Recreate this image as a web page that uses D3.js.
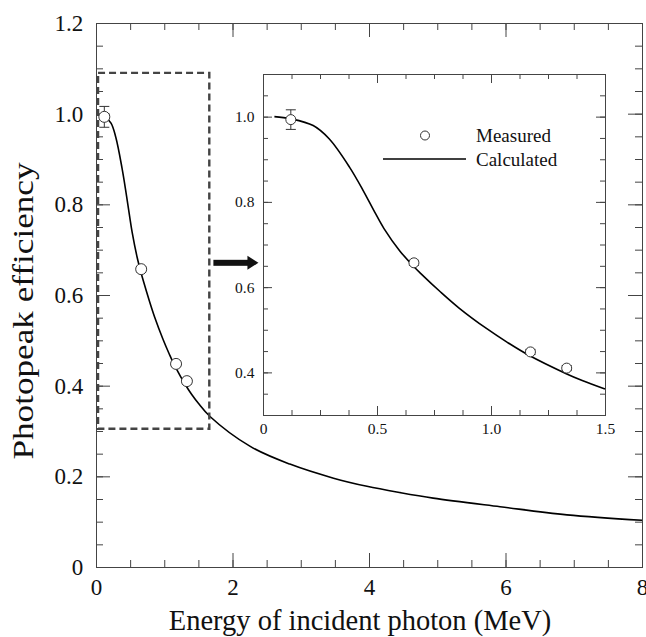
<!DOCTYPE html>
<html>
<head>
<meta charset="utf-8">
<script src="https://cdn.jsdelivr.net/npm/d3@7"></script>
<style>
  body { margin: 0; background: #fff; }
</style>
</head>
<body>
<div id="chart"></div>
<script>
// measured points (energy MeV, efficiency, error)
var measE = [0.122, 0.662, 1.173, 1.332];
var measEff = [0.993, 0.657, 0.448, 0.410];
var measErr = [0.023, 0.006, 0.006, 0.006];

// calculated curve
var calcE = [0.05, 0.12, 0.22, 0.29, 0.38, 0.44, 0.49, 0.53, 0.6, 0.66, 0.69, 0.78, 0.86, 0.98, 1.07, 1.16, 1.33, 1.4, 1.5, 1.67, 2.26, 2.84, 3.48, 3.97, 4.46, 4.94, 5.92, 6.9, 8.0];
var calcEff = [1.0, 0.995, 0.979, 0.948, 0.881, 0.826, 0.776, 0.738, 0.685, 0.649, 0.633, 0.588, 0.551, 0.503, 0.471, 0.442, 0.397, 0.381, 0.361, 0.332, 0.266, 0.227, 0.196, 0.178, 0.164, 0.152, 0.133, 0.115, 0.103];

var mainXTicks = [0, 2, 4, 6, 8];
var mainYTicks = [0, 0.2, 0.4, 0.6, 0.8, 1.0, 1.2];
var insetXTicks = [0, 0.5, 1.0, 1.5];
var insetYTicks = [0.4, 0.6, 0.8, 1.0];

var width = 646, height = 637;
var serif = "'Liberation Serif', 'Times New Roman', 'DejaVu Serif', serif";

var svg = d3.select("#chart").append("svg")
    .attr("width", width)
    .attr("height", height);

var calc = calcE.map(function(e, i) { return {e: e, v: calcEff[i]}; });
var meas = measE.map(function(e, i) { return {e: e, v: measEff[i], err: measErr[i]}; });

// ---- main plot
var x = d3.scaleLinear().domain([0, 8]).range([96, 642]);
var y = d3.scaleLinear().domain([0, 1.2]).range([567, 23]);

function frame(g, xs, ys, xMajor, xMinor, yMajor, yMinor, big, small, fs, fmtX, fmtY) {
  var x0 = xs.range()[0], x1 = xs.range()[1], y0 = ys.range()[0], y1 = ys.range()[1];
  // bottom
  g.append("g").attr("transform", "translate(0," + y0 + ")")
    .call(d3.axisBottom(xs).tickValues(xMinor).tickSize(-small).tickFormat(""));
  g.append("g").attr("class", "lab").attr("transform", "translate(0," + y0 + ")")
    .call(d3.axisBottom(xs).tickValues(xMajor).tickSize(-big).tickPadding(fs * 0.5).tickFormat(fmtX));
  // top
  g.append("g").attr("transform", "translate(0," + y1 + ")")
    .call(d3.axisTop(xs).tickValues(xMinor).tickSize(-small).tickFormat(""));
  g.append("g").attr("transform", "translate(0," + y1 + ")")
    .call(d3.axisTop(xs).tickValues(xMajor).tickSize(-big).tickFormat(""));
  // left
  g.append("g").attr("transform", "translate(" + x0 + ",0)")
    .call(d3.axisLeft(ys).tickValues(yMinor).tickSize(-small).tickFormat(""));
  g.append("g").attr("class", "lab").attr("transform", "translate(" + x0 + ",0)")
    .call(d3.axisLeft(ys).tickValues(yMajor).tickSize(-big).tickPadding(fs * 0.55).tickFormat(fmtY));
  // right
  g.append("g").attr("transform", "translate(" + x1 + ",0)")
    .call(d3.axisRight(ys).tickValues(yMinor).tickSize(-small).tickFormat(""));
  g.append("g").attr("transform", "translate(" + x1 + ",0)")
    .call(d3.axisRight(ys).tickValues(yMajor).tickSize(-big).tickFormat(""));

  g.selectAll(".domain").attr("stroke", "#444");
  g.selectAll(".tick line").attr("stroke", "#444");
  g.selectAll(".lab text").style("font-size", fs + "px");
}

function range(a, b, s) {
  var out = [];
  for (var v = a; v <= b + 1e-9; v += s) out.push(+v.toFixed(4));
  return out;
}

var mainG = svg.append("g");
frame(mainG, x, y, mainXTicks, range(0, 8, 0.5), mainYTicks, range(0, 1.2, 0.05), 14, 7, 23,
  function(d) { return d3.format("d")(d); },
  function(d) { return d === 0 ? "0" : d3.format(".1f")(d); });

var line = d3.line().x(function(d) { return x(d.e); }).y(function(d) { return y(d.v); })
    .curve(d3.curveCatmullRom);

mainG.append("path")
    .datum(calc.filter(function(d) { return d.e >= 0.12; }))
    .attr("d", line)
    .attr("fill", "none")
    .attr("stroke", "#000")
    .attr("stroke-width", 1.6);

// zoom box
mainG.append("rect")
    .attr("x", x(0.03)).attr("y", y(1.09))
    .attr("width", x(1.66) - x(0.03))
    .attr("height", y(0.305) - y(1.09))
    .attr("fill", "none")
    .attr("stroke", "#444")
    .attr("stroke-width", 2.4)
    .attr("stroke-dasharray", "7,4");

function points(g, xs, ys, r, cap) {
  var pts = g.selectAll(".pt").data(meas).enter().append("g");
  pts.append("line")
    .attr("x1", function(d) { return xs(d.e); }).attr("x2", function(d) { return xs(d.e); })
    .attr("y1", function(d) { return ys(d.v - d.err); }).attr("y2", function(d) { return ys(d.v + d.err); })
    .attr("stroke", "#333");
  [-1, 1].forEach(function(s) {
    pts.append("line")
      .attr("x1", function(d) { return xs(d.e) - cap; }).attr("x2", function(d) { return xs(d.e) + cap; })
      .attr("y1", function(d) { return ys(d.v + s * d.err); }).attr("y2", function(d) { return ys(d.v + s * d.err); })
      .attr("stroke", "#333");
  });
  pts.append("circle")
    .attr("cx", function(d) { return xs(d.e); })
    .attr("cy", function(d) { return ys(d.v); })
    .attr("r", r)
    .attr("fill", "#fff")
    .attr("stroke", "#333")
    .attr("stroke-width", 1);
}
points(mainG, x, y, 5.5, 5);

// arrow
var ax0 = x(1.72), ax1 = x(2.38), ay = y(0.671);
svg.append("rect").attr("x", ax0).attr("y", ay - 3).attr("width", ax1 - ax0 - 10).attr("height", 6).attr("fill", "#111");
svg.append("path")
    .attr("d", "M" + (ax1 - 11) + "," + (ay - 7) + "L" + ax1 + "," + ay + "L" + (ax1 - 11) + "," + (ay + 7) + "Z")
    .attr("fill", "#111");

// axis titles
svg.append("text")
    .attr("x", 360).attr("y", 630)
    .attr("text-anchor", "middle")
    .style("font-size", "28.5px")
    .text("Energy of incident photon (MeV)");

svg.append("text")
    .attr("transform", "translate(33,311) rotate(-90)")
    .attr("text-anchor", "middle")
    .attr("textLength", 297)
    .attr("lengthAdjust", "spacingAndGlyphs")
    .style("font-size", "29px")
    .text("Photopeak efficiency");

// ---- inset
var xi = d3.scaleLinear().domain([0, 1.5]).range([263, 605]);
var yi = d3.scaleLinear().domain([0.3, 1.1]).range([415, 74]);

var insG = svg.append("g");
insG.append("rect").attr("x", 263).attr("y", 74).attr("width", 342).attr("height", 341).attr("fill", "#fff");
frame(insG, xi, yi, insetXTicks, range(0, 1.5, 0.125), insetYTicks, range(0.3, 1.1, 0.05), 9, 5, 15.5,
  function(d) { return d === 0 ? "0" : d3.format(".1f")(d); },
  function(d) { return d3.format(".1f")(d); });

var linei = d3.line().x(function(d) { return xi(d.e); }).y(function(d) { return yi(d.v); })
    .curve(d3.curveCatmullRom);
insG.append("path")
    .datum(calc.filter(function(d) { return d.e <= 1.5; }))
    .attr("d", linei)
    .attr("fill", "none")
    .attr("stroke", "#000")
    .attr("stroke-width", 1.6);
points(insG, xi, yi, 5, 5);

// legend
insG.append("circle").attr("cx", 425).attr("cy", 135.5).attr("r", 4.5)
    .attr("fill", "#fff").attr("stroke", "#333");
insG.append("text").attr("x", 476).attr("y", 142).style("font-size", "19px").text("Measured");
insG.append("line").attr("x1", 383).attr("x2", 466).attr("y1", 159).attr("y2", 159)
    .attr("stroke", "#000").attr("stroke-width", 1.4);
insG.append("text").attr("x", 476).attr("y", 166).style("font-size", "19px").text("Calculated");

svg.selectAll("text").style("font-family", serif).attr("fill", "#111");
</script>
</body>
</html>
